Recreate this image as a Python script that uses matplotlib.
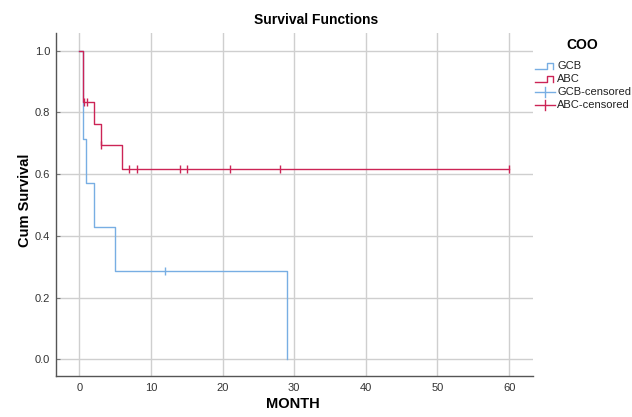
import matplotlib
matplotlib.use("Agg")
import matplotlib.pyplot as plt
from matplotlib.lines import Line2D

plt.rcParams['font.family'] = ['Liberation Sans', 'DejaVu Sans']

# Kaplan-Meier steps
gcb_time = [0, 0.5, 1, 2, 5, 29]
gcb_surv = [1.0, 0.714, 0.571, 0.429, 0.286, 0.0]
abc_time = [0, 0.5, 2, 3, 6, 60]
abc_surv = [1.0, 0.833, 0.764, 0.694, 0.617, 0.617]

gcb_cens_time = [12]
gcb_cens_surv = [0.286]
abc_cens_time = [0.6, 1.1, 3, 7, 8, 14, 15, 21, 28, 60]
abc_cens_surv = [0.833, 0.833, 0.694, 0.617, 0.617, 0.617, 0.617, 0.617, 0.617, 0.617]

x_ticks = [0, 10, 20, 30, 40, 50, 60]
y_ticks = [0.0, 0.2, 0.4, 0.6, 0.8, 1.0]
legend_labels = ["GCB", "ABC", "GCB-censored", "ABC-censored"]

blue = "#78aee3"
red = "#cc2456"
grid_col = "#cfcfcf"

W, H = 632, 417


def fx(px):
    return px / W


def fy(py):
    return 1 - py / H


fig = plt.figure(figsize=(6.32, 4.17), dpi=100)
ax = fig.add_axes([0.088, 0.098, 0.755, 0.822])

ax.step(gcb_time, gcb_surv, where="post", color=blue, lw=1.0, zorder=3)
ax.step(abc_time, abc_surv, where="post", color=red, lw=1.0, zorder=4)
ax.plot(gcb_cens_time, gcb_cens_surv, ls="none", marker="|", ms=6,
        mew=1.0, color=blue, zorder=5)
ax.plot(abc_cens_time, abc_cens_surv, ls="none", marker="|", ms=6,
        mew=1.0, color=red, zorder=5)

ax.set_xlim(-3.3, 63.3)
ax.set_ylim(-0.054, 1.056)
ax.set_xticks(x_ticks)
ax.set_yticks(y_ticks)
ax.set_yticklabels([f"{v:.1f}" for v in y_ticks])
ax.grid(True, color=grid_col, lw=1.0)
ax.set_axisbelow(True)
ax.tick_params(axis="both", labelsize=8, labelcolor="#333333", length=0)
ax.tick_params(axis="x", pad=5)
ax.tick_params(axis="y", length=3, direction="in", color="#777777", pad=4)

for s in ["top", "right"]:
    ax.spines[s].set_visible(False)
for s in ["left", "bottom"]:
    ax.spines[s].set_color("#555555")
    ax.spines[s].set_linewidth(1.0)

fig.text(0.464, fy(404), "MONTH", ha="center", va="center",
         fontsize=10.5, fontweight="bold")
fig.text(fx(25), fy(200), "Cum Survival", ha="center", va="center",
         rotation=90, fontsize=10.5, fontweight="bold")
fig.text(0.5, 0.952, "Survival Functions", ha="center", va="center",
         fontsize=10, fontweight="bold")

# hand-placed legend, SPSS style
fig.text(fx(582), fy(45), "COO", ha="center", va="center",
         fontsize=10, fontweight="bold")
rows = [66, 79, 92, 105]
colors = [blue, red, blue, red]
for i, (lab, col, r) in enumerate(zip(legend_labels, colors, rows)):
    if i < 2:
        xs = [535, 547, 547, 553, 553]
        ys = [r + 2.5, r + 2.5, r - 3, r - 3, r + 2.5]
        fig.add_artist(Line2D([fx(v) for v in xs], [fy(v) for v in ys],
                              color=col, lw=1.0, transform=fig.transFigure))
    else:
        fig.add_artist(Line2D([fx(535), fx(555)], [fy(r), fy(r)],
                              color=col, lw=1.0, transform=fig.transFigure))
        fig.add_artist(Line2D([fx(545), fx(545)], [fy(r - 5), fy(r + 5)],
                              color=col, lw=1.0, transform=fig.transFigure))
    fig.text(fx(557), fy(r), lab, ha="left", va="center", fontsize=8,
             color="#222222")

fig.savefig("out.png", dpi=100)
